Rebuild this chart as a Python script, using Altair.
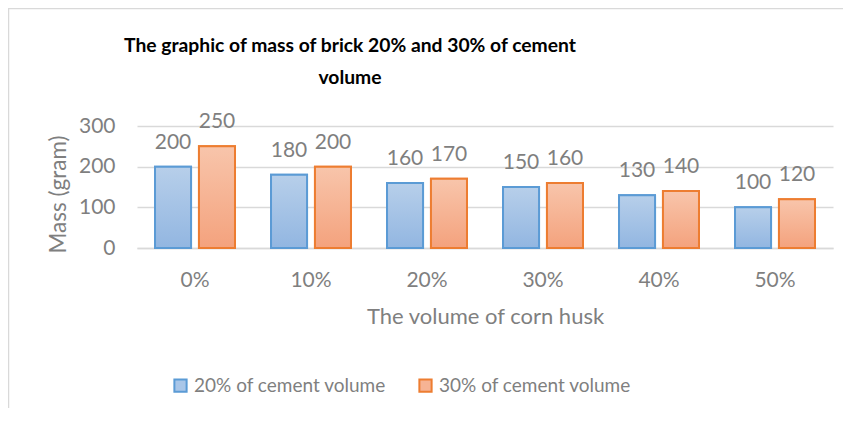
import altair as alt
import pandas as pd

categories = ["0%", "10%", "20%", "30%", "40%", "50%"]
series_names = ["20% of cement volume", "30% of cement volume"]
mass_20 = [200, 180, 160, 150, 130, 100]
mass_30 = [250, 200, 170, 160, 140, 120]
title_lines = ["The graphic of mass of brick 20% and 30% of cement", "volume"]

rows = []
for c, a, b in zip(categories, mass_20, mass_30):
    rows.append({"cat": c, "series": series_names[0], "mass": a})
    rows.append({"cat": c, "series": series_names[1], "mass": b})
df = pd.DataFrame(rows)

FONT = "Lato"
GRAY = "#7f7f7f"
GRID = "#d9d9d9"
BLUE_STROKE = "#5b9bd5"
ORANGE_STROKE = "#ed7d31"
FS = 21

x_enc = alt.X("cat:N", sort=categories,
              scale=alt.Scale(paddingInner=0, paddingOuter=0),
              axis=alt.Axis(title="The volume of corn husk", labelAngle=0,
                            labelPadding=21, ticks=False, domainColor=GRID,
                            domainWidth=1.5, titleY=68, titleBaseline="middle",
                            titleFontWeight="normal", titleFontSize=22))
xo_enc = alt.XOffset("series:N", sort=series_names,
                     scale=alt.Scale(paddingInner=0.18, paddingOuter=0.41))
y_enc = alt.Y("mass:Q", scale=alt.Scale(domain=[0, 300]),
              axis=alt.Axis(title="Mass (gram)", values=[0, 100, 200, 300],
                            ticks=False, domain=False, gridColor=GRID,
                            gridWidth=1.5, labelPadding=22,
                            titleX=-79, titleY=68, titleBaseline="middle",
                            titleFontWeight="normal", titleFontSize=22.5))

base = alt.Chart(df)

leg = dict(title=None, orient="none", direction="horizontal",
           legendX=34, legendY=250, symbolType="square",
           symbolSize=150, symbolStrokeWidth=2,
           labelFontSize=19, labelColor=GRAY, labelFont=FONT, labelLimit=0,
           labelOffset=4, columnPadding=28)

legend_bars = base.mark_bar(strokeWidth=2).encode(
    x=x_enc, xOffset=xo_enc, y=y_enc,
    fill=alt.Fill("series:N", sort=series_names,
                  scale=alt.Scale(domain=series_names, range=["#a9c6e8", "#f6b394"]),
                  legend=alt.Legend(**leg)),
    stroke=alt.Stroke("series:N", sort=series_names,
                      scale=alt.Scale(domain=series_names, range=[BLUE_STROKE, ORANGE_STROKE]),
                      legend=alt.Legend(**leg)),
)

def grad(top, bottom):
    return alt.LinearGradient(gradient="linear",
                              stops=[alt.GradientStop(color=top, offset=0),
                                     alt.GradientStop(color=bottom, offset=1)],
                              x1=0, x2=0, y1=0, y2=1)

blue_bars = base.mark_bar(color=grad("#b7cfea", "#92b6e1"), stroke=BLUE_STROKE,
                          strokeWidth=2).encode(x=x_enc, xOffset=xo_enc, y=y_enc
                          ).transform_filter(alt.datum.series == series_names[0])
orange_bars = base.mark_bar(color=grad("#f8c5ab", "#f4a27d"), stroke=ORANGE_STROKE,
                            strokeWidth=2).encode(x=x_enc, xOffset=xo_enc, y=y_enc
                            ).transform_filter(alt.datum.series == series_names[1])

labels = base.mark_text(dy=-18, baseline="alphabetic", fontSize=FS, color=GRAY,
                        font=FONT).encode(x=x_enc, xOffset=xo_enc, y=y_enc,
                                          text=alt.Text("mass:Q"))

one = alt.Chart(pd.DataFrame({"a": [0]}))
left_border = one.mark_rule(color=GRID, strokeWidth=1.5).encode(
    x=alt.value(-128.5), y=alt.value(-118), y2=alt.value(290))
top_border = one.mark_rule(color=GRID, strokeWidth=1.5).encode(
    x=alt.value(-129), x2=alt.value(710), y=alt.value(-117.5))

title_text = one.mark_text(align="center", baseline="alphabetic", fontSize=19.3,
                           font=FONT, fontWeight="bold", color="#000000",
                           lineHeight=32).encode(
    x=alt.value(213), y=alt.value(-74), text=alt.value(title_lines))

chart = alt.layer(legend_bars, blue_bars, orange_bars, labels, left_border,
                  top_border, title_text).properties(
    width=696, height=122,
    autosize=alt.AutoSizeParams(type="none"),
    padding={"left": 129, "top": 118, "right": 10, "bottom": 160},
).configure_view(stroke=None).configure_axis(
    labelFont=FONT, titleFont=FONT, labelFontSize=FS, titleFontSize=FS,
    labelColor=GRAY, titleColor=GRAY,
).configure_axisX(grid=False)

chart.save("out.html", embed_options={"renderer": "svg", "actions": False})
